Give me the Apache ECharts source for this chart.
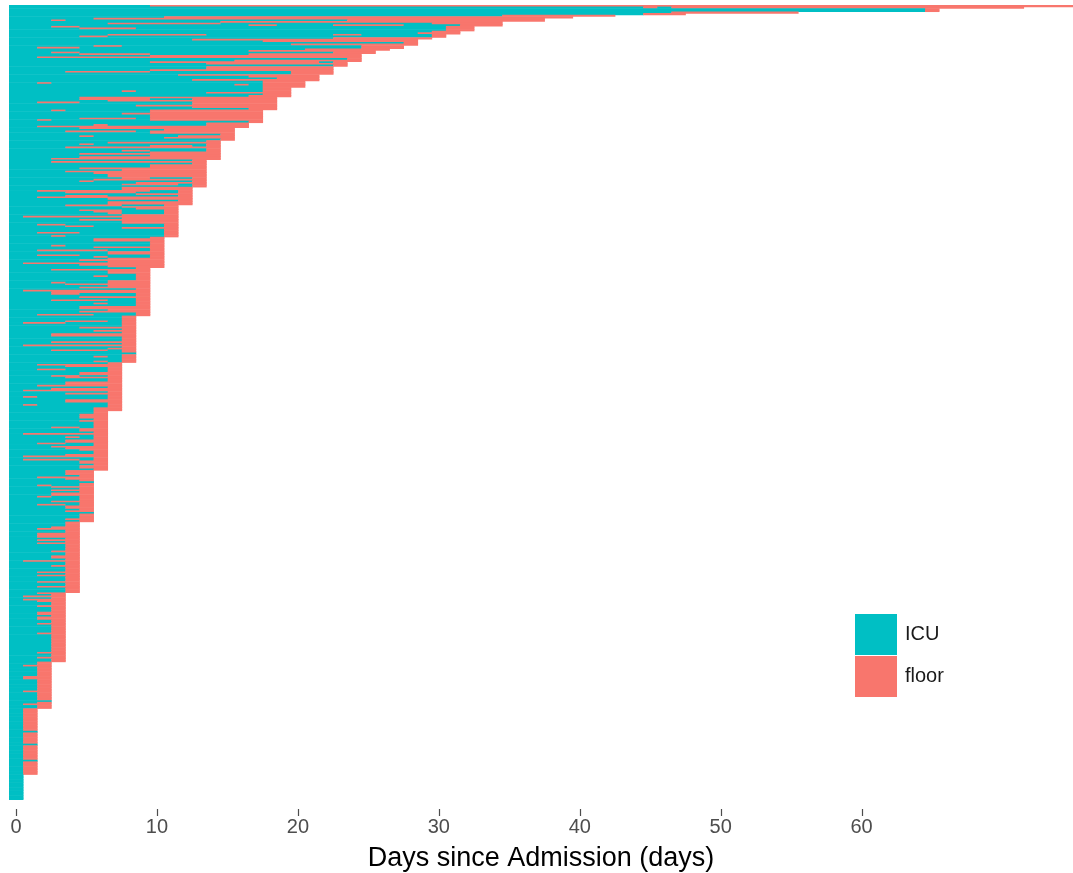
<!DOCTYPE html>
<html><head><meta charset="utf-8">
<script src="https://cdn.jsdelivr.net/npm/echarts@6/dist/echarts.min.js"></script>
<style>html,body{margin:0;padding:0;background:#fff}#c{width:1073px;height:873px}</style>
</head><body><div id="c"></div>
<script>
// Each string = one length-of-stay group (top to bottom). Each token = one patient row,
// run-length coded by day from admission: I = ICU days, F = floor days; "*n" repeats the row n times.
const longStayRows = [
  "I10F66 I45F1I1F25 I65F1 I65F1 I47F9 I45F3 I35F8 I11F29 I6F32 I3F1I20F14",
  "I15F20 I7F8I15F5 I17F2I4F5I4F3",
  "I3F2I26F2 I5F4I22F2 I31F2",
  "I30F2 I29F3",
  "I7F7I9F2I5F1 I5F2I23F1",
  "I23F7",
  "I13F16 I18F11 I28F1 I20F9",
  "I6F2I17F3 I2F3I20F3",
  "I21F6",
  "I17F9 I3F2I18F3",
  "I5F5I7F8 I10F15 I2F23 I24F1 I16F9",
  "I10F12I1F1 I14F10 I23F1",
  "I14F9 I14F9 I10F13 I4F6I10F3 I20F3",
  "I12F10 I17F5 I19F3 I13F9",
  "I18F3 I2F1I15F3 I16F1I1F3 I18F3",
  "I18F2 I18F2 I8F1I9F2 I14F6 I18F2 I17F3",
  "I5F14 I5F5I3F6 I7F12 I2F3I8F6 I13F6 I9F10 I13F6 I17F2",
  "I3F1I6F8 I10F8 I8F10 I10F8 I10F8 I5F4I1F8 I2F1I7F8 I17F1",
  "I14F3 I6F1I7F3 I2F15"
];
const midStayRows = [
  "I5F11 I11F5 I4F5I1F6 I10F6 I15F1 I5F1I6F4 I11F5 I15F1",
  "I14F1 I7F8 I5F1I8F1 I10F3I1F1 I4F11 I14F1 I8F2I4F1 I10F5 I5F10 I10F5 I5F10 I3F12",
  "I13F1 I3F11 I13F1 I10F4 I10F4 I5F9 I8F6 I4F10 I6F8 I7F7 I7F7 I8F2I3F1 I6F8 I5F1I7F1 I9F5 I8F4I1F1 I13F1",
  "I8F5 I8F5 I2F8I2F1 I4F5I3F1 I9F4 I4F3I5F1 I2F11 I7F6 I12F1 I7F6 I7F6",
  "I4F4I3F1 I8F4 I9F3 I5F3I3F1 I6F2I3F1 I7F1I3F1 I8F4 I1F11 I8F4 I5F7 I8F4 I8F4 I2F2I7F1 I4F2I5F1 I8F4 I11F1 I11F1 I2F3I6F1 I11F1 I3F1I7F1",
  "I10F1 I6F5 I6F5 I10F1 I10F1 I3F1I6F1 I6F5 I10F1 I2F5I3F1 I7F4 I7F4 I2F3I5F1 I6F1I3F1 I7F4 I5F6 I7F4 I1F10 I5F6 I7F4",
  "I9F1 I3F7 I7F3 I7F3 I9F1 I6F1I2F1 I9F1 I9F1 I7F3 I3F1I3F3 I4F6 I7F3 I5F5 I9F1 I1F9 I3F7 I3F2I4F1 I9F1 I5F5 I9F1 I3F4I2F1 I9F1 I6F1I2F1 I9F1 I5F5 I5F5 I7F3 I5F5 I9F1 I2F4I3F1",
  "I8F1*3 I4F3I1F1 I1F3I4F1 I8F1 I8F1 I5F4 I8F1 I6F3 I8F1 I3F6 I3F6 I8F1*3 I3F6 I8F1 I1F8 I8F1 I7F2 I3F4I1F1 I8F1 I9 I8F1 I6F1I1F1 I8F1 I8F1 I6F1I1F1"
];
const shortStayRows = [
  "I7F1 I2F6 I4F4 I7F1 I2F2I3F1 I7F1 I5F3 I5F3 I3F2I2F1 I4F4 I7F1 I7F1 I4F4 I4F4 I2F6 I7F1 I3F5 I1F7 I7F1 I4F4 I7F1 I1F1I5F1 I7F1 I4F4 I4F4 I7F1 I1F1I5F1 I7F1 I6F2 I6F2",
  "I6F1 I6F1 I5F2 I5F2 I5F2 I6F1 I5F2 I6F1 I6F1 I6F1 I3F2I1F1 I5F2 I5F2 I6F1 I1F6 I6F1 I4F1I1F1 I6F1 I4F3 I4F3 I2F2I2F1 I6F1 I3F4 I4F3 I5F2 I6F1 I6F1 I4F3 I1F6 I6F1 I1F4I1F1 I5F2 I5F2 I6F1 I5F2 I5F2 I6F1",
  "I4F2 I4F2 I4F2 I5F1 I2F4 I4F2 I5F1 I6 I5F1 I2F1I2F1 I3F3 I5F1 I3F3 I5F1 I3F3 I3F3 I2F1I2F1 I5F1 I5F1 I3F3 I5F1 I2F2I1F1 I4F2 I4F2 I5F1 I4F2 I6 I5F1 I5F1 I5F1 I4F2 I5F1",
  "I4F1*3 I3F2 I2F3 I4F1 I4F1 I2F3 I2F3 I2F3 I4F1 I2F3 I4F1 I2F3 I4F1*4 I3F2 I4F1 I4F1 I3F2 I3F2 I4F1 I1F4 I4F1 I4F1 I3F2 I4F1*3 I2F3 I4F1 I2F3 I4F1*3 I2F3 I4F1 I4F1 I2F3 I4F1*3",
  "I2F2 I3F1 I1F3 I3F1 I1F3 I2F2 I3F1 I3F1 I2F2 I3F1*3 I2F2 I2F2 I3F1 I2F2 I2F2 I3F1 I3F1 I2F2 I3F1*5 I2F2 I3F1*11 I2F2 I3F1 I3F1 I2F2 I3F1 I3F1",
  "I2F1 I2F1 I1F2 I2F1*6 I1F2 I1F2 I2F1*7 I1F2 I2F1*5 I3 I2F1 I1F2 I2F1 I2F1",
  "I1F1*14 I2 I1F1*7 I2 I1F1*9 I2 I1F1*8",
  "I1*16"
];
const careLevels = ['ICU', 'floor'];
const careColors = ['#00BFC4', '#F8766D'];
const xTicks = [0, 10, 20, 30, 40, 50, 60];

// build segments [startDay, endDay, row, levelIndex]
const segments = [];
let row = 0;
[...longStayRows, ...midStayRows, ...shortStayRows].forEach(group => {
  group.trim().split(/\s+/).forEach(tok => {
    const [pat, rep] = tok.split('*');
    const n = rep ? parseInt(rep, 10) : 1;
    for (let k = 0; k < n; k++) {
      let d = 0;
      const re = /([IF])(\d+)/g; let m;
      while ((m = re.exec(pat))) {
        const len = parseInt(m[2], 10);
        segments.push([d - 0.5, d + len - 0.5, row, m[1] === 'I' ? 0 : 1]);
        d += len;
      }
      row++;
    }
  });
});
const nRows = row;

const chart = echarts.init(document.getElementById('c'), null, {renderer: 'canvas'});
function renderSeg(params, api) {
  const s = api.value(0), e = api.value(1), r = api.value(2), t = api.value(3);
  const p1 = api.coord([s, r]);
  const p2 = api.coord([e, r + 1]);
  const cs = params.coordSys;
  let x0 = Math.max(p1[0], cs.x), x1 = Math.min(p2[0] + 0.4, cs.x + cs.width);
  return {
    type: 'rect',
    shape: {x: x0, y: p1[1], width: Math.max(0, x1 - x0), height: p2[1] - p1[1] + 0.6},
    style: {fill: careColors[t]}
  };
}
// axis tick marks placed with the x scale, just below the panel
function renderTick(params, api) {
  const p = api.coord([api.value(0), nRows]);
  const x = Math.round(p[0]) + 0.5;
  return {type: 'line', shape: {x1: x, y1: p[1] + 9, x2: x, y2: p[1] + 16},
          style: {stroke: '#4D4D4D', lineWidth: 1.2}};
}
chart.setOption({
  animation: false,
  backgroundColor: '#ffffff',
  textStyle: {fontFamily: 'Liberation Sans, Arial, sans-serif'},
  grid: {left: 9, right: 0, top: 5, bottom: 73, containLabel: false, outerBoundsMode: 'none'},
  xAxis: {
    type: 'value', min: -0.5, max: 75, position: 'bottom', offset: 8,
    axisLine: {show: false},
    axisTick: {show: false},
    axisLabel: {customValues: xTicks, color: '#4D4D4D', fontSize: 20, margin: 9, fontFamily: 'Liberation Sans'},
    splitLine: {show: false},
    name: 'Days since Admission (days)', nameLocation: 'middle', nameGap: 37,
    nameTextStyle: {fontSize: 27, color: '#000', fontFamily: 'Liberation Sans'}
  },
  yAxis: {type: 'value', min: 0, max: nRows, inverse: true, show: false},
  legend: {
    orient: 'vertical', left: 855, top: 614, padding: 0, itemGap: 1,
    itemWidth: 42, itemHeight: 41, icon: 'rect',
    textStyle: {fontSize: 20, color: '#1a1a1a', padding: [0, 0, 0, 3], fontFamily: 'Liberation Sans'},
    data: careLevels
  },
  series: [
    {name: careLevels[0], type: 'custom', renderItem: renderSeg, data: segments, clip: true, silent: true,
     itemStyle: {color: careColors[0]}, encode: {x: [0, 1], y: 2}},
    {name: careLevels[1], type: 'custom', renderItem: renderSeg, data: [], clip: true, silent: true,
     itemStyle: {color: careColors[1]}},
    {name: 'ticks', type: 'custom', renderItem: renderTick, data: xTicks.map(v => [v]), clip: false, silent: true,
     encode: {x: 0}}
  ]
});
</script></body></html>
